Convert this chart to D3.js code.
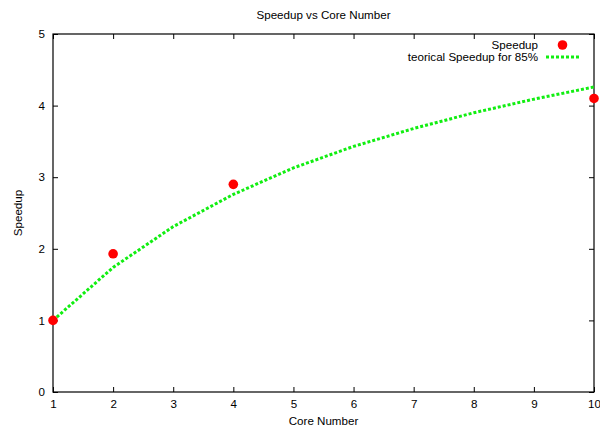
<!DOCTYPE html>
<html><head><meta charset="utf-8">
<script src="https://cdn.jsdelivr.net/npm/d3@7"></script>
<style>body{margin:0;background:#fff}svg{display:block}text{font-family:"Liberation Sans",Arial,Helvetica,sans-serif;font-size:11.6px;fill:#000}</style>
</head><body><svg id="c" width="600" height="429"></svg>
<script>
const coresMeasured = [1, 2, 4, 10];
const speedupMeasured = [1.0, 1.93, 2.9, 4.1];
const coresTheory = [1, 2, 3, 4, 5, 6, 7, 8, 9, 10];
const speedupTheory = [1.0, 1.74, 2.31, 2.76, 3.13, 3.43, 3.68, 3.90, 4.09, 4.26];
const xTicks = [1,2,3,4,5,6,7,8,9,10];
const yTicks = [0,1,2,3,4,5];
const title = "Speedup vs Core Number";
const xLabel = "Core Number";
const yLabel = "Speedup";
const legendLabels = ["Speedup", "teorical Speedup for 85%"];

const svg = d3.select("#c");
const L=53, R=594, T=34, B=392;
const x = d3.scaleLinear().domain([1,10]).range([L,R]);
const y = d3.scaleLinear().domain([0,5]).range([B,T]);
const tl = 5;

const gB = svg.append("g").attr("transform",`translate(0,${B})`)
  .call(d3.axisBottom(x).tickValues(xTicks).tickFormat(d3.format("d")).tickSizeInner(-tl).tickSizeOuter(0).tickPadding(8));
const gT = svg.append("g").attr("transform",`translate(0,${T})`)
  .call(d3.axisTop(x).tickValues(xTicks).tickFormat("").tickSizeInner(-tl).tickSizeOuter(0));
const gL = svg.append("g").attr("transform",`translate(${L},0)`)
  .call(d3.axisLeft(y).tickValues(yTicks).tickFormat(d3.format("d")).tickSizeInner(-tl).tickSizeOuter(0).tickPadding(8));
const gR = svg.append("g").attr("transform",`translate(${R},0)`)
  .call(d3.axisRight(y).tickValues(yTicks).tickFormat("").tickSizeInner(-tl).tickSizeOuter(0));
[gB,gT,gL,gR].forEach(g=>{
  g.select(".domain").remove();
  g.selectAll("line").attr("stroke","#000").attr("stroke-width",1);
  g.selectAll("text").attr("font-size",null).attr("font-family",null);
});
gB.selectAll("text").attr("dy","0.71em");

svg.append("rect").attr("x",L).attr("y",T).attr("width",R-L).attr("height",B-T)
  .attr("fill","none").attr("stroke","#000").attr("stroke-width",1.2);

const line = d3.line().x((d,i)=>x(coresTheory[i])).y(d=>y(d));
svg.append("path").datum(speedupTheory).attr("d",line)
  .attr("fill","none").attr("stroke","#11ee11").attr("stroke-width",3).attr("stroke-dasharray","3,2");

svg.append("g").selectAll("circle").data(speedupMeasured).join("circle")
  .attr("cx",(d,i)=>x(coresMeasured[i])).attr("cy",d=>y(d)).attr("r",4.8).attr("fill","#ff0000");

svg.append("text").attr("x",538).attr("y",45).attr("dy","0.35em").attr("text-anchor","end").text(legendLabels[0]);
svg.append("circle").attr("cx",562.5).attr("cy",45).attr("r",4.8).attr("fill","#ff0000");
svg.append("text").attr("x",538).attr("y",57).attr("dy","0.35em").attr("text-anchor","end").text(legendLabels[1]);
svg.append("line").attr("x1",546).attr("x2",580).attr("y1",57).attr("y2",57)
  .attr("stroke","#11ee11").attr("stroke-width",3).attr("stroke-dasharray","3,2");

svg.append("text").attr("x",(L+R)/2).attr("y",15).attr("dy","0.35em").attr("text-anchor","middle").text(title);
svg.append("text").attr("x",(L+R)/2).attr("y",421).attr("dy","0.35em").attr("text-anchor","middle").text(xLabel);
svg.append("text").attr("transform",`translate(18,${(T+B)/2}) rotate(-90)`).attr("dy","0.35em").attr("text-anchor","middle").text(yLabel);
</script></body></html>
